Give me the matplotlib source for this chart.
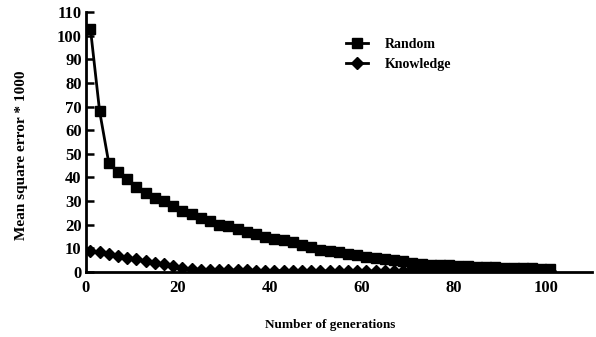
import matplotlib
matplotlib.use("Agg")
import matplotlib.pyplot as plt
import numpy as np

generations = list(range(1, 102, 2))
random_mse = [103, 68, 46, 42.5, 39.5, 36, 33.5, 31.5, 30, 28,
              26, 24.5, 23, 21.5, 20, 19.5, 18, 17, 16, 15,
              14, 13.5, 12.5, 11.5, 10.5, 9.5, 9, 8.5, 7.5, 7,
              6.5, 6, 5.5, 5, 4.5, 4, 3.5, 3, 3, 2.8,
              2.6, 2.4, 2.2, 2.0, 2.0, 1.8, 1.7, 1.6, 1.5, 1.4, 1.3]
knowledge_mse = [9, 8.5, 7.5, 6.8, 6, 5.3, 4.6, 3.9, 3.2, 2.4,
                 1.7, 1.3, 1.0, 0.9, 0.8, 0.8, 0.7, 0.7, 0.6, 0.6,
                 0.6, 0.5, 0.5, 0.5, 0.5, 0.4, 0.4, 0.4, 0.4, 0.4,
                 0.4, 0.3, 0.3, 0.3, 0.3, 0.3, 0.3, 0.3, 0.3, 0.3,
                 0.3, 0.3, 0.3, 0.3, 0.3, 0.3, 0.3, 0.3, 0.3, 0.3, 0.3]
x_ticks = [0, 20, 40, 60, 80, 100]
y_ticks = list(range(0, 111, 10))

plt.rcParams['font.family'] = ['Liberation Serif', 'DejaVu Serif']
fig = plt.figure(figsize=(5.96, 3.37), dpi=100)
ax = fig.add_axes([0.144, 0.193, 0.849, 0.771])

ax.plot(generations, random_mse, color='black', lw=2, marker='s', ms=7,
        mfc='black', mec='black', label='Random')
ax.plot(generations, knowledge_mse, color='black', lw=2, marker='D', ms=6.5,
        mfc='black', mec='black', label='Knowledge')

ax.set_xlim(0, 110)
ax.set_ylim(0, 110)
ax.set_xticks(x_ticks)
ax.set_yticks(y_ticks)
ax.tick_params(axis='y', direction='in', length=6, width=1.8, pad=3, labelsize=12)
ax.tick_params(axis='x', length=0, pad=6, labelsize=12)
for lab in ax.get_xticklabels() + ax.get_yticklabels():
    lab.set_fontweight('bold')
for s in ['top', 'right']:
    ax.spines[s].set_visible(False)
for s in ['left', 'bottom']:
    ax.spines[s].set_linewidth(2)

ax.set_xlabel('Number of generations', fontsize=9.5, fontweight='bold')
ax.set_ylabel('Mean square error * 1000', fontsize=11, fontweight='bold')
ax.xaxis.set_label_coords(0.482, -0.18)
ax.yaxis.set_label_coords(-0.115, 0.45)

leg = ax.legend(loc='upper left', bbox_to_anchor=(0.49, 0.95), frameon=False,
                fontsize=10, handlelength=1.6, handletextpad=1.2, labelspacing=0.5)
for t in leg.get_texts():
    t.set_fontweight('bold')

fig.savefig('out.png', dpi=100)
